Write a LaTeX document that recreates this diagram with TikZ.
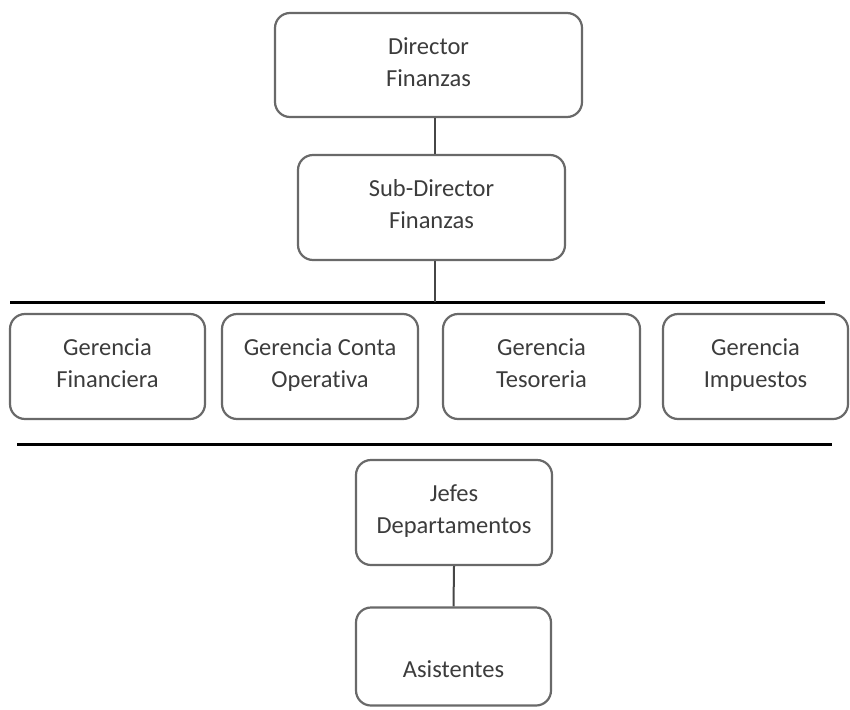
\documentclass[tikz,border=0pt]{standalone}
\usepackage{fontspec}
\setmainfont[Ligatures=NoCommon]{Carlito}
\definecolor{boxline}{RGB}{105,105,105}
\definecolor{txt}{RGB}{60,60,60}
\definecolor{conn}{RGB}{70,70,70}
\newcommand{\lnstrut}{\rule[-8pt]{0pt}{26pt}}
\begin{document}
\begin{tikzpicture}[x=1pt,y=-1pt,
  orgbox/.style={draw=boxline,line width=2.2pt,rounded corners=15pt,fill=white,
    align=center,text=txt,font=\fontsize{24.5}{32}\selectfont,inner sep=0pt},
  connector/.style={draw=conn,line width=2pt},
  rule/.style={draw=black,line width=3pt}]
\useasboundingbox (0,0) rectangle (850,709);
\node[orgbox,minimum width=307pt,minimum height=104pt] (dir) at (428.5,65) {\lnstrut Director\\\lnstrut Finanzas};
\node[orgbox,minimum width=267pt,minimum height=105pt] (sub) at (431.5,207.5) {\lnstrut Sub-Director\\\lnstrut Finanzas};
\node[orgbox,minimum width=195pt,minimum height=105pt] (g1) at (107.5,366.5) {\lnstrut Gerencia\\\lnstrut Financiera};
\node[orgbox,minimum width=196pt,minimum height=105pt] (g2) at (320,366.5) {\lnstrut Gerencia Conta\\\lnstrut Operativa};
\node[orgbox,minimum width=197pt,minimum height=105pt] (g3) at (541.5,366.5) {\lnstrut Gerencia\\\lnstrut Tesoreria};
\node[orgbox,minimum width=185pt,minimum height=105pt] (g4) at (755.5,366.5) {\lnstrut Gerencia\\\lnstrut Impuestos};
\node[orgbox,minimum width=196pt,minimum height=105pt] (jef) at (454,512.5) {\lnstrut Jefes\\\lnstrut Departamentos};
\node[orgbox,minimum width=195pt,minimum height=98pt] (asi) at (453.5,656.5) {\lnstrut\\\lnstrut Asistentes};
\coordinate (l1a) at (10,302);
\coordinate (l1b) at (825,302);
\coordinate (l2a) at (17,444);
\coordinate (l2b) at (832,444);
\coordinate (j1) at (435,302);
\draw[rule] (l1a) -- (l1b);
\draw[rule] (l2a) -- (l2b);
\draw[connector] (dir.south -| j1) -- (sub.north -| j1);
\draw[connector] (sub.south -| j1) -- (j1);
\draw[connector] (jef.south) -- (asi.north);
\end{tikzpicture}
\end{document}
